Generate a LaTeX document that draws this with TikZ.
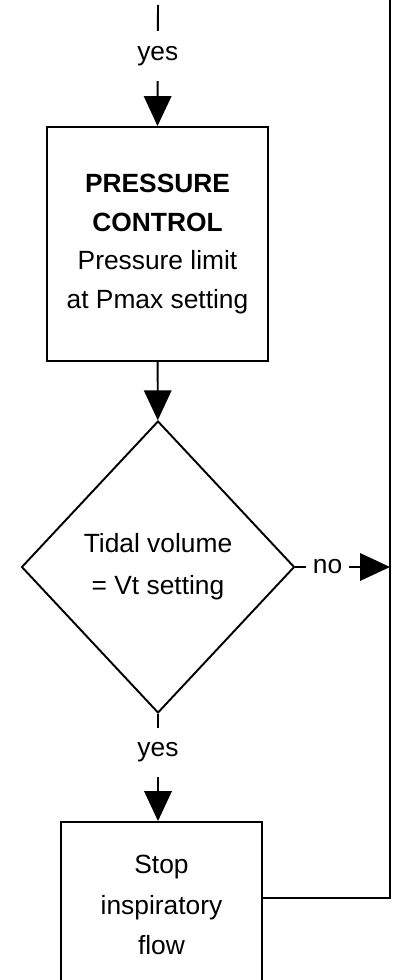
\documentclass[tikz,border=0pt]{standalone}
\usepackage{fontspec}
\setmainfont{Liberation Sans}
\usetikzlibrary{shapes.geometric,arrows.meta}

\tikzset{
  block/.style={draw, line width=1.1pt, align=center, inner sep=0pt},
  decision/.style={draw, diamond, line width=1.1pt, align=center, inner sep=0pt},
  flow/.style={line width=1.1pt, -{Triangle[length=0.6cm, width=0.55cm]}},
  lbl/.style={fill=white, inner xsep=0.14cm, inner ysep=0.3cm},
}

\begin{document}
\begin{tikzpicture}[x=0.02cm, y=-0.02cm,
    font=\fontsize{15}{22}\selectfont]
  \useasboundingbox (0,0) rectangle (398,980);

  % --- blocchi ---
  \node[block, minimum width=4.42cm, minimum height=4.68cm] (ctrl) at (157.5,244)
    {\textbf{PRESSURE}\\ \textbf{CONTROL}\\ Pressure limit\\ at Pmax setting};
  \node[decision, minimum width=5.46cm, minimum height=5.84cm,
    font=\fontsize{15}{24}\selectfont] (check) at (158,567)
    {Tidal volume\\ = Vt setting};
  \node[block, minimum width=4.02cm, minimum height=3.32cm,
    font=\fontsize{15}{23}\selectfont] (stop) at (161.5,905)
    {Stop\\ inspiratory\\ flow};

  % --- punti liberi ---
  \coordinate (entry) at (158,5);
  \coordinate (railtop) at (390,-5);
  \coordinate (railturn) at (390,898);
  \coordinate (railhit) at (390,567);

  % --- collegamenti ---
  \draw[flow] (entry) -- node[lbl, pos=0.42] {yes} (ctrl.north);
  \draw[flow] (ctrl) -- (check);
  \draw[flow] (check.south) -- node[lbl, pos=0.36] {yes} (check.south |- stop.north);
  \draw[flow] (check.east) -- node[lbl, pos=0.34, inner ysep=1pt] {no} (railhit);
  \draw[line width=1.1pt] (stop.east |- railturn) -- (railturn) -- (railtop);
\end{tikzpicture}
\end{document}
